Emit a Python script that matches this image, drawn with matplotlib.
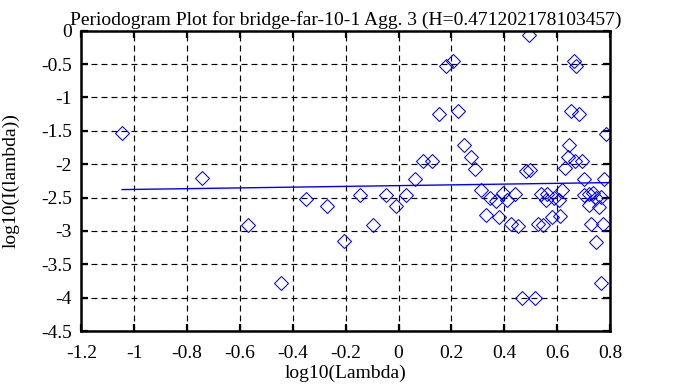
import numpy as np
import matplotlib
matplotlib.use('Agg')
import matplotlib.pyplot as plt

plt.rcParams['font.family'] = ['Liberation Serif', 'DejaVu Serif']
plt.rcParams['lines.scale_dashes'] = False

#Datos del periodograma (log10 lambda, log10 I(lambda))
logLambda = [-1.046, -0.745, -0.570, -0.446, -0.351, -0.270, -0.205, -0.147, -0.097, -0.049,
             -0.008, 0.027, 0.063, 0.092, 0.125, 0.154, 0.179, 0.206, 0.226, 0.249,
             0.273, 0.289, 0.311, 0.330, 0.347, 0.367, 0.378, 0.394, 0.411, 0.424,
             0.440, 0.453, 0.466, 0.483, 0.493, 0.497, 0.516, 0.526, 0.539, 0.547,
             0.556, 0.563, 0.581, 0.588, 0.606, 0.611, 0.618, 0.628, 0.640, 0.645,
             0.653, 0.662, 0.669, 0.671, 0.681, 0.694, 0.701, 0.702, 0.720, 0.720,
             0.728, 0.736, 0.745, 0.748, 0.758, 0.764, 0.764, 0.773, 0.777, 0.785]
logI = [-1.540, -2.207, -2.917, -3.784, -2.523, -2.628, -3.158, -2.457, -2.913, -2.467,
        -2.630, -2.460, -2.216, -1.955, -1.960, -1.251, -0.526, -0.455, -1.206, -1.712,
        -1.900, -2.070, -2.380, -2.760, -2.510, -2.550, -2.790, -2.430, -2.540, -2.900,
        -2.450, -2.920, -4.003, -2.100, -0.060, -2.090, -4.003, -2.900, -2.450, -2.910,
        -2.540, -2.440, -2.790, -2.510, -2.540, -2.770, -2.380, -2.060, -1.900, -1.712,
        -1.206, -0.450, -1.950, -0.535, -1.251, -1.960, -2.216, -2.460, -2.440, -2.610,
        -2.900, -2.430, -3.168, -2.500, -2.640, -2.490, -3.784, -2.900, -2.216, -1.547]

#Recta de ajuste
fitX = [-1.046, 0.800]
fitY = [-2.381, -2.276]

titulo = 'Periodogram Plot for bridge-far-10-1 Agg. 3 (H=0.471202178103457)'
xticks = [-1.2, -1, -0.8, -0.6, -0.4, -0.2, 0, 0.2, 0.4, 0.6, 0.8]
yticks = [0, -0.5, -1, -1.5, -2, -2.5, -3, -3.5, -4, -4.5]

fig = plt.figure(figsize=(6.78, 3.87), dpi=100)
ax = fig.add_axes([0.12, 0.1447, 0.7798, 0.776])

ax.plot(logLambda, logI, linestyle='none', marker='D', markersize=7,
        markerfacecolor='none', markeredgecolor='#0000ff', markeredgewidth=0.75)
ax.plot(fitX, fitY, color='#0000ff', linewidth=1)

ax.set_xlim(-1.2, 0.8)
ax.set_ylim(-4.5, 0)
ax.set_xticks(xticks)
ax.set_yticks(yticks)
ax.set_xticklabels(['%g' % t for t in xticks])
ax.set_yticklabels(['%g' % t for t in yticks])
ax.grid(True, color='black', linestyle=(0, (4.3, 2.9)), linewidth=0.85)
ax.set_axisbelow(True)
for s in ax.spines.values():
    s.set_linewidth(1.8)
ax.tick_params(direction='in', length=5, width=1.6, labelsize=14,
               top=True, right=True)
ax.tick_params(axis='x', pad=10)
ax.tick_params(axis='y', pad=7)

ax.set_title(titulo, fontsize=14, pad=4)
ax.set_xlabel('log10(Lambda)', fontsize=14, labelpad=2)
ax.set_ylabel('log10(I(lambda))', fontsize=14, labelpad=15)

fig.savefig('out.png', dpi=100)
